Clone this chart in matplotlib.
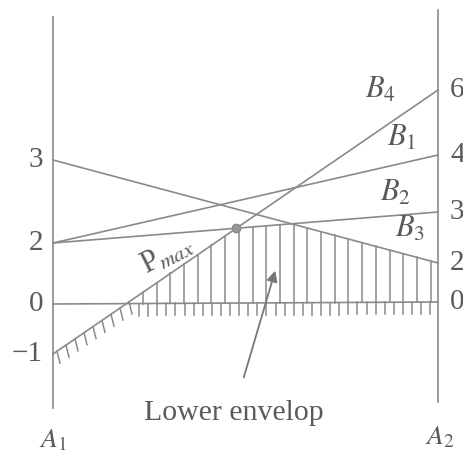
import numpy as np
import matplotlib
matplotlib.use("Agg")
import matplotlib.pyplot as plt

# payoffs of the column strategies against A1 (left) and A2 (right)
strategies = ["B1", "B2", "B3", "B4"]
payoff_a1 = [2, 2, 3, -1]
payoff_a2 = [4, 3, 2, 6]

left_ticks = [-1, 0, 2, 3]
right_ticks = [0, 2, 3, 4, 6]

# the two axes are schematic: each value sits at its own row (pixels from top)
left_rows = [354, 304, 243, 160]
right_rows = [302, 263, 212, 155, 90]

LINE = "#8a8a8a"
TEXT = "#5a5a5a"

plt.rcParams["font.family"] = ["Liberation Serif", "DejaVu Serif"]
plt.rcParams["mathtext.fontset"] = "stix"


def row_left(v):
    return np.interp(v, left_ticks, left_rows)


def row_right(v):
    return np.interp(v, right_ticks, right_rows)


def row_at(x, a1, a2):
    r1, r2 = row_left(a1), row_right(a2)
    return r1 + (r2 - r1) * x


def col(px):
    # pixel column -> x (A1 at 0, A2 at 1)
    return (px - 53) / 385.0


fig = plt.figure(figsize=(4.64, 4.53), dpi=100)
ax = fig.add_axes([0, 0, 1, 1])
ax.set_xlim(col(0), col(464))
ax.set_ylim(453, 0)
ax.axis("off")

# A1 and A2 axes
ax.plot([0, 0], [17, 408], color=LINE, lw=1.2)
ax.plot([1, 1], [10, 402], color=LINE, lw=1.2)

# zero line and strategy lines
ax.plot([0, 1], [row_left(0), row_right(0)], color=LINE, lw=1.2)
for a1, a2 in zip(payoff_a1, payoff_a2):
    ax.plot([0, 1], [row_left(a1), row_right(a2)], color=LINE, lw=1.2)


def envelope(x):
    return max(row_at(x, a1, a2) for a1, a2 in zip(payoff_a1, payoff_a2))


# vertical hatching between zero line and lower envelope
for x in np.arange(col(143), 0.99, 13.7 / 385):
    z = row_at(x, 0, 0)
    e = envelope(x)
    if e < z:
        ax.plot([x, x], [z, e], color=LINE, lw=1.1)

# short ticks under the zero line
for x in np.arange(col(139), 0.99, 9.1 / 385):
    z = row_at(x, 0, 0)
    ax.plot([x, x], [z, z + 12], color=LINE, lw=1.1)

# slanted ticks under B4 where it is below zero
b4 = strategies.index("B4")
for x in np.arange(col(57), col(130), 9.0 / 385):
    r = row_at(x, payoff_a1[b4], payoff_a2[b4])
    ax.plot([x, x + 3 / 385], [r, r + 12], color=LINE, lw=1.1)

# maximin point: B4 meets B2
b2 = strategies.index("B2")
r4a, r4b = row_left(payoff_a1[b4]), row_right(payoff_a2[b4])
r2a, r2b = row_left(payoff_a1[b2]), row_right(payoff_a2[b2])
xs = (r2a - r4a) / ((r4b - r4a) - (r2b - r2a))
ax.plot(xs, row_at(xs, payoff_a1[b4], payoff_a2[b4]), "o", color="#999999",
        ms=6, mec=LINE)

# tick labels
for v, r in zip(left_ticks, left_rows):
    ax.text(col(43), r, str(v).replace("-", "\u2212"), ha="right", va="center",
            fontsize=21, color=TEXT)
for v, r in zip(right_ticks, right_rows):
    ax.text(col(450), r, str(v), ha="left", va="center", fontsize=21,
            color=TEXT)

# strategy labels
label_pos = {"B1": (col(402), 138), "B2": (col(395), 193),
             "B3": (col(410), 229), "B4": (col(381), 90)}
for s in strategies:
    x, r = label_pos[s]
    ax.text(x, r, "$%s_{%s}$" % (s[0], s[1]), ha="center", va="center",
            fontsize=22, color=TEXT)

ax.text(col(53), 441, "$A_1$", ha="center", va="center", fontsize=20,
        color=TEXT)
ax.text(col(440), 438, "$A_2$", ha="center", va="center", fontsize=20,
        color=TEXT)

ax.text(col(167), 255, r"P$_{max}$", ha="center", va="center", fontsize=22,
        rotation=27, color=TEXT)

ax.annotate("", xy=(col(276), 268), xytext=(col(243), 380),
            arrowprops=dict(arrowstyle="-|>", color="#777777", lw=1.3,
                            mutation_scale=16))
ax.text(col(234), 413, "Lower envelop", ha="center", va="center",
        fontsize=21.5, color=TEXT)

fig.savefig("out.png", dpi=100)
